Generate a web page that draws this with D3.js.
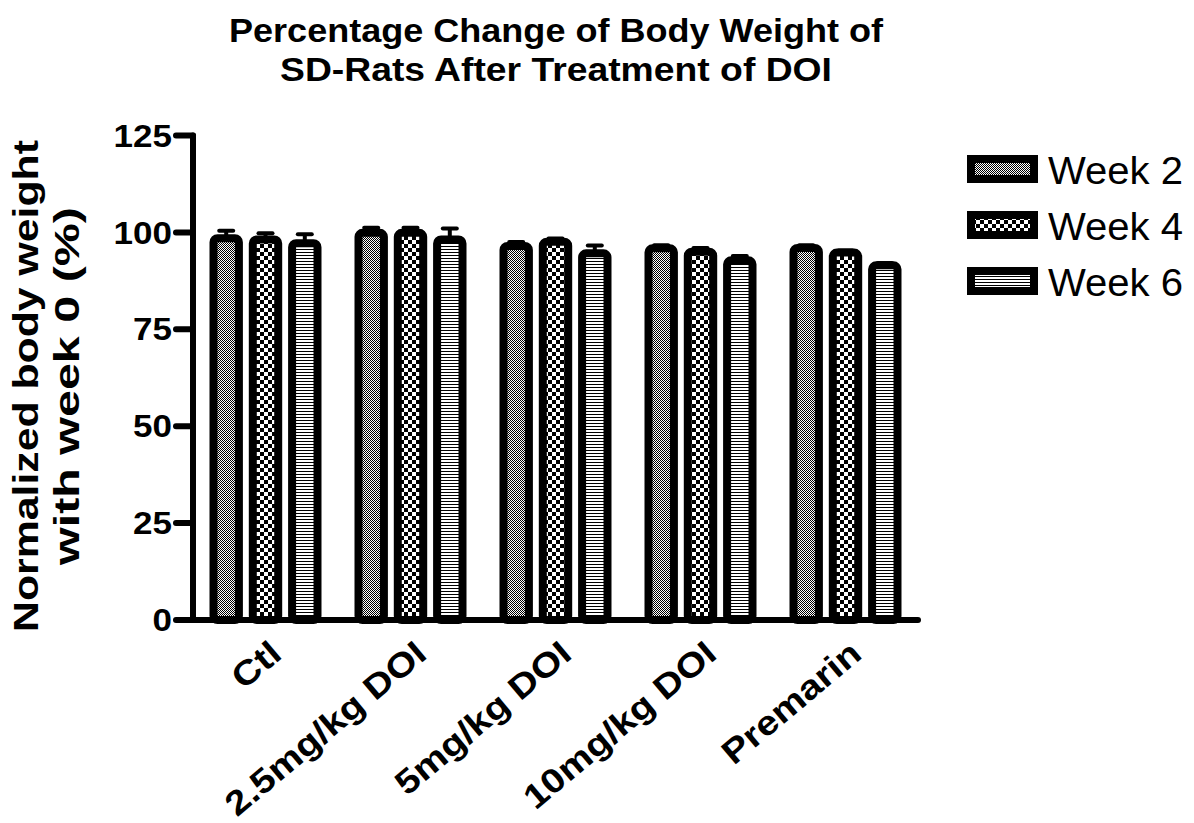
<!DOCTYPE html>
<html><head><meta charset="utf-8">
<script src="https://cdn.jsdelivr.net/npm/d3@7"></script>
<style>body{margin:0;background:#fff}svg{display:block}text{font-family:"Liberation Sans",Arial,sans-serif}</style>
</head><body>
<svg id="c" width="1194" height="823"></svg>
<script>
const categories = ["Ctl","2.5mg/kg DOI","5mg/kg DOI","10mg/kg DOI","Premarin"];
const seriesNames = ["Week 2","Week 4","Week 6"];
const week2 = [98.5, 99.9, 96.5, 95.9, 96.0];
const week4 = [98.2, 99.9, 97.6, 95.0, 94.8];
const week6 = [97.2, 98.2, 94.6, 92.8, 91.5];
const err2 = [1.9, 1.3, 1.0, 0.8, 0.7];
const err4 = [1.6, 1.3, 0.8, 1.0, 0.5];
const err6 = [2.3, 2.8, 2.0, 1.1, 0.6];
const yTicks = [0,25,50,75,100,125];
const titleLines = ["Percentage Change of Body Weight of","SD-Rats After Treatment of DOI"];
const yLabelLines = ["Normalized body weight","with week 0 (%)"];

const values = [week2, week4, week6];
const errors = [err2, err4, err6];
const patIds = ["p2","p4","p6"];

function stretch(sel, f){
  sel.each(function(){
    const L = this.getComputedTextLength();
    d3.select(this).attr("textLength", L*f).attr("lengthAdjust","spacingAndGlyphs");
  });
}
function fitTo(sel, widths){
  sel.each(function(d,i){
    d3.select(this).attr("textLength", widths[i]).attr("lengthAdjust","spacingAndGlyphs");
  });
}

const svg = d3.select("#c");
const defs = svg.append("defs");
let p = defs.append("pattern").attr("id","p2").attr("patternUnits","userSpaceOnUse").attr("width",2).attr("height",2);
p.append("rect").attr("width",2).attr("height",2).attr("fill","#fff");
p.append("rect").attr("width",1).attr("height",1).attr("fill","#000");
p.append("rect").attr("x",1).attr("y",1).attr("width",1).attr("height",1).attr("fill","#000");
p = defs.append("pattern").attr("id","p4").attr("patternUnits","userSpaceOnUse").attr("width",8).attr("height",8);
p.append("rect").attr("width",8).attr("height",8).attr("fill","#fff");
p.append("rect").attr("width",4).attr("height",4).attr("fill","#000");
p.append("rect").attr("x",4).attr("y",4).attr("width",4).attr("height",4).attr("fill","#000");
p = defs.append("pattern").attr("id","p6").attr("patternUnits","userSpaceOnUse").attr("width",4).attr("height",3);
p.append("rect").attr("width",4).attr("height",3).attr("fill","#fff");
p.append("rect").attr("width",4).attr("height",1).attr("fill","#000");

const x0 = 193, x1 = 918;
const y = d3.scaleLinear().domain([0,125]).range([620,135.5]);
const xg = d3.scaleBand().domain(categories).range([x0,x1]).paddingInner(0.2276).paddingOuter(0.1138);
const xs = d3.scaleBand().domain(d3.range(3)).range([0,xg.bandwidth()]).paddingInner(0.15).paddingOuter(0);

const bars = [];
categories.forEach((c,i)=>{ for(let s=0;s<3;s++) bars.push({c, s, v: values[s][i], e: errors[s][i]}); });

const g = svg.append("g");
const cx = d => xg(d.c)+xs(d.s)+xs.bandwidth()/2;
g.selectAll("line.stem").data(bars).join("line")
  .attr("x1",cx).attr("x2",cx)
  .attr("y1",d=>y(d.v)).attr("y2",d=>y(d.v+d.e)).attr("stroke","#000").attr("stroke-width",4);
g.selectAll("line.cap").data(bars).join("line")
  .attr("x1",d=>cx(d)-7).attr("x2",d=>cx(d)+7)
  .attr("y1",d=>y(d.v+d.e)).attr("y2",d=>y(d.v+d.e)).attr("stroke","#000").attr("stroke-width",4).attr("stroke-linecap","round");
g.selectAll("rect.bar").data(bars).join("rect")
  .attr("x",d=>xg(d.c)+xs(d.s)+4).attr("width",xs.bandwidth()-8)
  .attr("y",d=>y(d.v)).attr("height",d=>y(0)-y(d.v))
  .attr("rx",4)
  .attr("fill",d=>`url(#${patIds[d.s]})`).attr("stroke","#000").attr("stroke-width",8);

const ax = svg.append("g");
ax.append("line").attr("x1",x0).attr("x2",x0).attr("y1",y(125)).attr("y2",y(0)).attr("stroke","#000").attr("stroke-width",6).attr("stroke-linecap","round");
ax.append("line").attr("x1",x0).attr("x2",x1).attr("y1",y(0)).attr("y2",y(0)).attr("stroke","#000").attr("stroke-width",6).attr("stroke-linecap","round");
ax.selectAll("line.tick").data(yTicks).join("line")
  .attr("x1",x0-17).attr("x2",x0).attr("y1",d=>y(d)).attr("y2",d=>y(d)).attr("stroke","#000").attr("stroke-width",6).attr("stroke-linecap","round");
stretch(ax.selectAll("text.tl").data(yTicks).join("text")
  .attr("x",x0-21).attr("y",d=>y(d)).attr("dy","0.36em").attr("text-anchor","end")
  .attr("font-size",31).attr("font-weight","bold").text(d=>d), 1.13);

stretch(ax.selectAll("text.xl").data(categories).join("text")
  .attr("transform",d=>`translate(${xg(d)+xg.bandwidth()/2+18},${657}) rotate(-40)`)
  .attr("text-anchor","end").attr("font-size",34).attr("font-weight","bold").text(d=>d), 1.15);

fitTo(svg.append("g").selectAll("text").data(titleLines).join("text")
  .attr("x",556).attr("y",(d,i)=>42+i*39).attr("text-anchor","middle")
  .attr("font-size",33).attr("font-weight","bold").text(d=>d), [654,552]);

fitTo(svg.append("g").attr("transform","translate(0,0) rotate(-90)")
  .selectAll("text").data(yLabelLines).join("text")
  .attr("x",(d,i)=>i===0?-386:-386).attr("y",(d,i)=>38+i*41).attr("text-anchor","middle")
  .attr("font-size",35).attr("font-weight","bold").text(d=>d), [492,358]);

const lg = svg.append("g");
seriesNames.forEach((n,i)=>{
  const yy = 159 + i*56;
  lg.append("rect").attr("x",971).attr("y",yy).attr("width",63).attr("height",20)
    .attr("fill",`url(#${patIds[i]})`).attr("stroke","#000").attr("stroke-width",8);
  lg.append("text").attr("x",1048).attr("y",yy+25).attr("font-size",38)
    .attr("textLength",135).attr("lengthAdjust","spacingAndGlyphs").text(n);
});
</script>
</body></html>
